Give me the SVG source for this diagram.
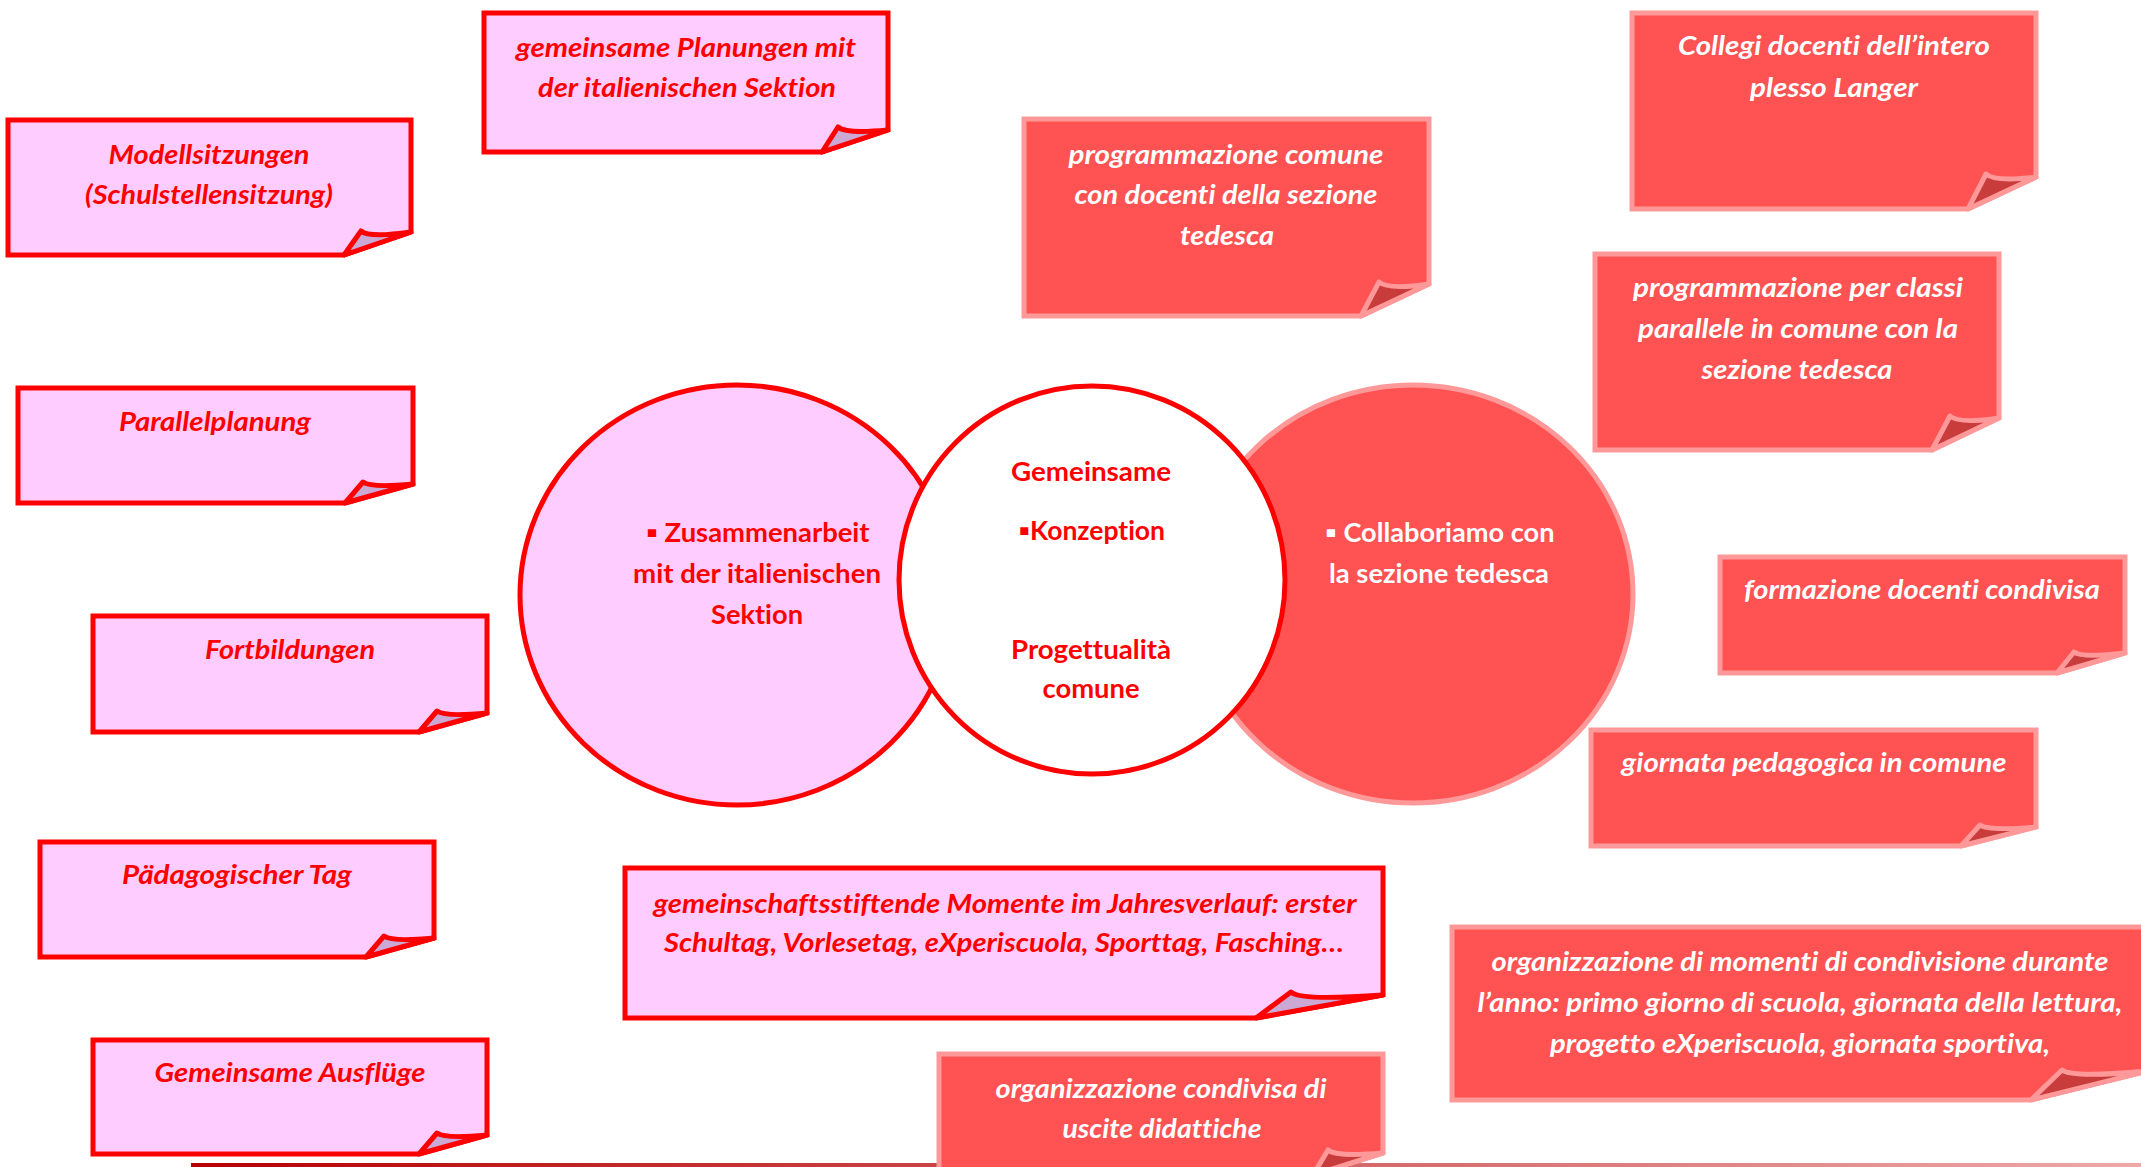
<svg xmlns="http://www.w3.org/2000/svg" width="2141" height="1167" viewBox="0 0 2141 1167">
<defs>
<linearGradient id="lineGrad" x1="0" y1="0" x2="1" y2="0">
<stop offset="0" stop-color="#B80000"/>
<stop offset="0.45" stop-color="#CC5050"/>
<stop offset="1" stop-color="#EEA8A8"/>
</linearGradient>
<style>
.pk{fill:#FFCCFF;stroke:#FF0000;stroke-width:5;stroke-linejoin:miter}
.pkf{fill:#CCA8D4;stroke:#FF0000;stroke-width:5;stroke-linejoin:round}
.rd{fill:#FF5252;stroke:#FF9999;stroke-width:5;stroke-linejoin:miter}
.rdf{fill:#C83C3C;stroke:#FF9999;stroke-width:5;stroke-linejoin:round}
text{font-family:Lato,"Open Sans","Liberation Sans",sans-serif;font-size:26px;font-weight:bold;text-anchor:middle;font-variant-ligatures:none;transform:translate(0px,2px)}
.it{font-style:italic}
.tr{fill:#FF0000}
.tw{fill:#FFFFFF}
</style>
</defs>
<rect x="0" y="0" width="2141" height="1167" fill="#FFFFFF"/>

<g id="connectors"></g>

<!-- circles -->
<g id="circle-left">
<ellipse cx="737" cy="595" rx="217" ry="210" fill="#FFCCFF" stroke="#FF0000" stroke-width="5"/>
</g>
<g id="circle-right">
<ellipse cx="1413" cy="594" rx="220" ry="209" fill="#FF5252" stroke="#FF9999" stroke-width="5"/>
</g>
<g id="circle-middle">
<ellipse cx="1092" cy="580" rx="193" ry="194" fill="#FFFFFF" stroke="#FF0000" stroke-width="5"/>
</g>
<g id="circle-left-text">
<text class="tr" x="758" y="540" textLength="223" lengthAdjust="spacingAndGlyphs">▪ Zusammenarbeit</text>
<text class="tr" x="757" y="581" textLength="248" lengthAdjust="spacingAndGlyphs">mit der italienischen</text>
<text class="tr" x="757" y="622" textLength="92" lengthAdjust="spacingAndGlyphs">Sektion</text>
</g>
<g id="circle-middle-text">
<text class="tr" x="1091" y="479" textLength="160" lengthAdjust="spacingAndGlyphs">Gemeinsame</text>
<text class="tr" x="1092" y="538" textLength="146" lengthAdjust="spacingAndGlyphs">▪Konzeption</text>
<text class="tr" x="1091" y="657" textLength="160" lengthAdjust="spacingAndGlyphs">Progettualità</text>
<text class="tr" x="1091" y="696" textLength="97" lengthAdjust="spacingAndGlyphs">comune</text>
</g>
<g id="circle-right-text">
<text class="tw" x="1440" y="540" textLength="229" lengthAdjust="spacingAndGlyphs">▪ Collaboriamo con</text>
<text class="tw" x="1439" y="581" textLength="220" lengthAdjust="spacingAndGlyphs">la sezione tedesca</text>
</g>

<!-- bottom line -->
<rect x="191" y="1163" width="1950" height="5" fill="url(#lineGrad)"/>

<!-- pink notes -->
<g id="note-planungen">
<path class="pk" d="M484,13 H888 V130 L822,152 H484 Z"/>
<path class="pkf" d="M822,152 L838,127 Q846,134 888,130 Z"/>
<text class="tr it" x="686" y="55" textLength="340" lengthAdjust="spacingAndGlyphs">gemeinsame Planungen mit</text>
<text class="tr it" x="687" y="95" textLength="298" lengthAdjust="spacingAndGlyphs">der italienischen Sektion</text>
</g>
<g id="note-modell">
<path class="pk" d="M8,120 H411 V232 L344,255 H8 Z"/>
<path class="pkf" d="M344,255 L361,231 Q369,238 411,232 Z"/>
<text class="tr it" x="209" y="162" textLength="201" lengthAdjust="spacingAndGlyphs">Modellsitzungen</text>
<text class="tr it" x="209" y="202" textLength="248" lengthAdjust="spacingAndGlyphs">(Schulstellensitzung)</text>
</g>
<g id="note-parallel">
<path class="pk" d="M18,388 H413 V484 L345,503 H18 Z"/>
<path class="pkf" d="M345,503 L363,482 Q371,488 413,484 Z"/>
<text class="tr it" x="215" y="429" textLength="192" lengthAdjust="spacingAndGlyphs">Parallelplanung</text>
</g>
<g id="note-fortbildungen">
<path class="pk" d="M93,616 H487 V713 L419,732 H93 Z"/>
<path class="pkf" d="M419,732 L437,711 Q445,717 487,713 Z"/>
<text class="tr it" x="290" y="657" textLength="170" lengthAdjust="spacingAndGlyphs">Fortbildungen</text>
</g>
<g id="note-paedagogischer">
<path class="pk" d="M40,842 H434 V938 L366,957 H40 Z"/>
<path class="pkf" d="M366,957 L384,936 Q392,942 434,938 Z"/>
<text class="tr it" x="237" y="882" textLength="230" lengthAdjust="spacingAndGlyphs">Pädagogischer Tag</text>
</g>
<g id="note-ausfluege">
<path class="pk" d="M93,1040 H487 V1135 L419,1154 H93 Z"/>
<path class="pkf" d="M419,1154 L437,1133 Q445,1139 487,1135 Z"/>
<text class="tr it" x="290" y="1080" textLength="271" lengthAdjust="spacingAndGlyphs">Gemeinsame Ausflüge</text>
</g>
<g id="note-gemeinschaft">
<path class="pk" d="M625,868 H1383 V995 L1256,1018 H625 Z"/>
<path class="pkf" d="M1256,1018 L1291,992 Q1300,1001 1383,995 Z"/>
<text class="tr it" x="1005" y="911" textLength="703" lengthAdjust="spacingAndGlyphs">gemeinschaftsstiftende Momente im Jahresverlauf: erster</text>
<text class="tr it" x="1004" y="950" textLength="680" lengthAdjust="spacingAndGlyphs">Schultag, Vorlesetag, eXperiscuola, Sporttag, Fasching…</text>
</g>

<!-- red notes -->
<g id="note-programmazione-comune">
<path class="rd" d="M1024,119 H1429 V284 L1361,316 H1024 Z"/>
<path class="rdf" d="M1361,316 L1379,282 Q1388,290 1429,284 Z"/>
<text class="tw it" x="1226" y="162" textLength="315" lengthAdjust="spacingAndGlyphs">programmazione comune</text>
<text class="tw it" x="1226" y="202" textLength="303" lengthAdjust="spacingAndGlyphs">con docenti della sezione</text>
<text class="tw it" x="1227" y="243" textLength="94" lengthAdjust="spacingAndGlyphs">tedesca</text>
</g>
<g id="note-collegi">
<path class="rd" d="M1632,13 H2036 V177 L1968,209 H1632 Z"/>
<path class="rdf" d="M1968,209 L1986,174 Q1995,182 2036,177 Z"/>
<text class="tw it" x="1834" y="53" textLength="312" lengthAdjust="spacingAndGlyphs">Collegi docenti dell’intero</text>
<text class="tw it" x="1834" y="95" textLength="168" lengthAdjust="spacingAndGlyphs">plesso Langer</text>
</g>
<g id="note-classi">
<path class="rd" d="M1595,254 H1999 V418 L1932,450 H1595 Z"/>
<path class="rdf" d="M1932,450 L1950,416 Q1959,424 1999,418 Z"/>
<text class="tw it" x="1798" y="295" textLength="330" lengthAdjust="spacingAndGlyphs">programmazione per classi</text>
<text class="tw it" x="1798" y="336" textLength="320" lengthAdjust="spacingAndGlyphs">parallele in comune con la</text>
<text class="tw it" x="1797" y="377" textLength="191" lengthAdjust="spacingAndGlyphs">sezione tedesca</text>
</g>
<g id="note-formazione">
<path class="rd" d="M1720,557 H2125 V653 L2057,673 H1720 Z"/>
<path class="rdf" d="M2057,673 L2074,652 Q2082,658 2125,653 Z"/>
<text class="tw it" x="1922" y="597" textLength="356" lengthAdjust="spacingAndGlyphs">formazione docenti condivisa</text>
</g>
<g id="note-giornata">
<path class="rd" d="M1591,730 H2036 V827 L1961,846 H1591 Z"/>
<path class="rdf" d="M1961,846 L1980,825 Q1988,831 2036,827 Z"/>
<text class="tw it" x="1814" y="770" textLength="385" lengthAdjust="spacingAndGlyphs">giornata pedagogica in comune</text>
</g>
<g id="note-momenti">
<path class="rd" d="M1452,927 H2148 V1071 L2031,1100 H1452 Z"/>
<path class="rdf" d="M2031,1100 L2062,1070 Q2072,1078 2148,1071 Z"/>
<text class="tw it" x="1800" y="969" textLength="617" lengthAdjust="spacingAndGlyphs">organizzazione di momenti di condivisione durante</text>
<text class="tw it" x="1800" y="1010" textLength="645" lengthAdjust="spacingAndGlyphs">l’anno: primo giorno di scuola, giornata della lettura,</text>
<text class="tw it" x="1800" y="1051" textLength="500" lengthAdjust="spacingAndGlyphs">progetto eXperiscuola, giornata sportiva,</text>
</g>
<g id="note-condivisa">
<path class="rd" d="M939,1054 H1383 V1153 L1313,1175 H939 Z"/>
<path class="rdf" d="M1313,1175 L1328,1150 Q1336,1157 1383,1153 Z"/>
<text class="tw it" x="1161" y="1096" textLength="331" lengthAdjust="spacingAndGlyphs">organizzazione condivisa di</text>
<text class="tw it" x="1162" y="1136" textLength="199" lengthAdjust="spacingAndGlyphs">uscite didattiche</text>
</g>
</svg>
